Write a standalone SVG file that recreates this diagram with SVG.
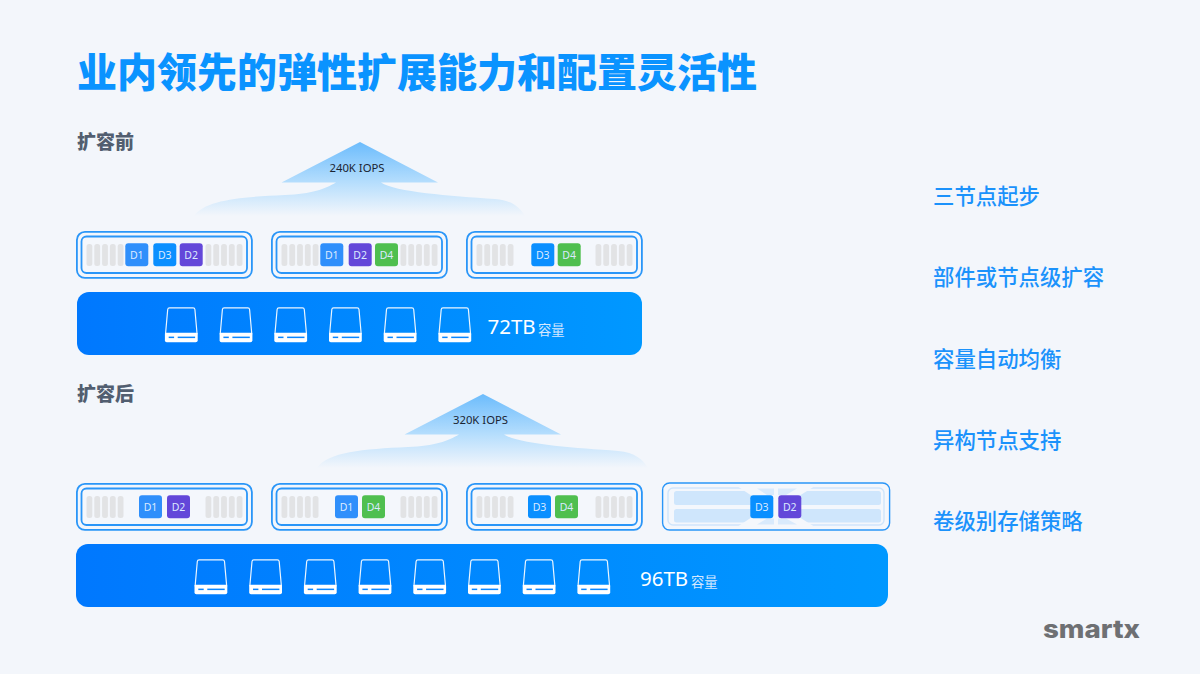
<svg xmlns="http://www.w3.org/2000/svg" width="1200" height="674" viewBox="0 0 1200 674">
<style>
text{font-family:"Noto Sans","Noto Sans CJK SC","Liberation Sans",sans-serif}
.cjk{font-family:"Noto Sans CJK SC","Noto Sans",sans-serif}
.title{font-size:40px;font-weight:900;fill:#0a93ff}
.head{font-size:19px;font-weight:900;fill:#525e70}
.feat{font-size:21.4px;fill:#1b92fb;font-weight:500}
.iops{font-size:11.3px;fill:#1a2433;text-anchor:middle}
.cap{font-size:20.5px;fill:#fff;font-weight:400}
.capz{font-size:13.3px;fill:#d6e9ff}
.outer{fill:none;stroke:#2a96f8;stroke-width:1.8}
.inner{fill:#f4f7fc;stroke:#2a96f8;stroke-width:1.8}
.bar{fill:#e2e3e5}
.chip{font-size:10.5px;fill:#dbeaff;text-anchor:middle}
.d1{fill:#2f8ffb}.d2{fill:#6347d9}.d3{fill:#0a8fff}.d4{fill:#4fbf4f}
</style>
<defs>
<linearGradient id="band" x1="0" y1="0" x2="1" y2="0"><stop offset="0" stop-color="#0078fe"/><stop offset="1" stop-color="#0098ff"/></linearGradient>
<linearGradient id="up" x1="0" y1="0" x2="0" y2="1"><stop offset="0" stop-color="#6cbcfc"/><stop offset="0.55" stop-color="#b6defd"/><stop offset="1" stop-color="#f3f6fb"/></linearGradient>
<g id="bars5"><rect class="bar" x="0" width="5.800" height="22" rx="2.500"/><rect class="bar" x="7.800" width="5.800" height="22" rx="2.500"/><rect class="bar" x="15.600" width="5.800" height="22" rx="2.500"/><rect class="bar" x="23.400" width="5.800" height="22" rx="2.500"/><rect class="bar" x="31.200" width="5.800" height="22" rx="2.500"/></g>
<g id="frame"><rect class="outer" x="0.900" y="0.900" width="175" height="46" rx="8"/><rect class="inner" x="5.500" y="5.500" width="165.500" height="36.500" rx="5"/></g>
<g id="drive"><path d="M.8 27 L3 2.200 Q3.200 .6 4.800 .6 H28.400 Q30 .6 30.200 2.200 L32.400 27" fill="none" stroke="#fff" stroke-width="1.200" opacity=".92"/><path d="M1.400 25.400 H31.800 Q33 25.400 33 26.600 V33 Q33 35 31 35 H2 Q.2 35 .2 33 V26.600 Q.2 25.400 1.400 25.400Z" fill="#fff"/><rect x="4" y="29.300" width="5.400" height="1.500" fill="#0a86ff"/><rect x="13" y="29.300" width="17.400" height="1.500" fill="#0a86ff"/></g>
<path id="arrow" d="M360 142 L438 182.500 H381 C395 192 450 196 495 199 C512 200 520 208 525 216 H194 C205 200 240 197 285 195 C312 194 325 189 336 182.500 H281.500Z"/>
</defs>
<rect width="1200" height="674" fill="#f3f6fb"/>
<text class="title cjk" x="77" y="86.500">业内领先的弹性扩展能力和配置灵活性</text>
<text class="head cjk" x="77" y="148.500">扩容前</text>
<text class="head cjk" x="77" y="400.500">扩容后</text>
<g id="features">
<text class="feat cjk" x="933" y="203.500">三节点起步</text>
<text class="feat cjk" x="933" y="285">部件或节点级扩容</text>
<text class="feat cjk" x="933" y="367">容量自动均衡</text>
<text class="feat cjk" x="933" y="448">异构节点支持</text>
<text class="feat cjk" x="933" y="529">卷级别存储策略</text>
</g>
<g id="perf-before"><use href="#arrow" fill="url(#up)"/><text class="iops" x="357" y="172">240K IOPS</text></g>
<g id="perf-after"><use href="#arrow" x="123" y="252" fill="url(#up)"/><text class="iops" x="480.500" y="424">320K IOPS</text></g>

<g id="node-a1"><use href="#frame" x="76" y="231"/><use href="#bars5" x="86.500" y="244"/><use href="#bars5" x="205.500" y="244"/>
<rect class="d1" x="125.300" y="243.300" width="23" height="23" rx="3"/><text class="chip" x="136.800" y="258.500">D1</text>
<rect class="d3" x="153.300" y="243.300" width="23" height="23" rx="3"/><text class="chip" x="164.800" y="258.500">D3</text>
<rect class="d2" x="179.700" y="243.300" width="23" height="23" rx="3"/><text class="chip" x="191.200" y="258.500">D2</text></g>
<g id="node-a2"><use href="#frame" x="271" y="231"/><use href="#bars5" x="281.500" y="244"/><use href="#bars5" x="400.500" y="244"/>
<rect class="d1" x="320.300" y="243.300" width="23" height="23" rx="3"/><text class="chip" x="331.800" y="258.500">D1</text>
<rect class="d2" x="348.700" y="243.300" width="23" height="23" rx="3"/><text class="chip" x="360.200" y="258.500">D2</text>
<rect class="d4" x="375" y="243.300" width="23" height="23" rx="3"/><text class="chip" x="386.500" y="258.500">D4</text></g>
<g id="node-a3"><use href="#frame" x="466" y="231"/><use href="#bars5" x="476.500" y="244"/><use href="#bars5" x="595.500" y="244"/>
<rect class="d3" x="531.300" y="243.300" width="23" height="23" rx="3"/><text class="chip" x="542.800" y="258.500">D3</text>
<rect class="d4" x="557.700" y="243.300" width="23" height="23" rx="3"/><text class="chip" x="569.200" y="258.500">D4</text></g>

<g id="pool-a"><rect x="77" y="292" width="565" height="63" rx="12" fill="url(#band)"/>
<use href="#drive" x="164.700" y="307.300"/><use href="#drive" x="219.400" y="307.300"/><use href="#drive" x="274.100" y="307.300"/><use href="#drive" x="328.800" y="307.300"/><use href="#drive" x="383.500" y="307.300"/><use href="#drive" x="438.200" y="307.300"/>
<text class="cap" x="487.500" y="334">72TB</text><text class="capz cjk" x="538" y="335">容量</text></g>

<g id="node-b1"><use href="#frame" x="76" y="483"/><use href="#bars5" x="86.500" y="496"/><use href="#bars5" x="205.500" y="496"/>
<rect class="d1" x="139" y="495.300" width="23" height="23" rx="3"/><text class="chip" x="150.500" y="510.500">D1</text>
<rect class="d2" x="167" y="495.300" width="23" height="23" rx="3"/><text class="chip" x="178.500" y="510.500">D2</text></g>
<g id="node-b2"><use href="#frame" x="271" y="483"/><use href="#bars5" x="281.500" y="496"/><use href="#bars5" x="400.500" y="496"/>
<rect class="d1" x="335" y="495.300" width="23" height="23" rx="3"/><text class="chip" x="346.500" y="510.500">D1</text>
<rect class="d4" x="362" y="495.300" width="23" height="23" rx="3"/><text class="chip" x="373.500" y="510.500">D4</text></g>
<g id="node-b3"><use href="#frame" x="466" y="483"/><use href="#bars5" x="476.500" y="496"/><use href="#bars5" x="595.500" y="496"/>
<rect class="d3" x="528" y="495.300" width="23" height="23" rx="3"/><text class="chip" x="539.500" y="510.500">D3</text>
<rect class="d4" x="555" y="495.300" width="23" height="23" rx="3"/><text class="chip" x="566.500" y="510.500">D4</text></g>
<g id="node-b4"><rect x="662.600" y="483" width="227" height="47" rx="7" fill="#f4f7fc" stroke="#2a96f8" stroke-width="1.400"/>
<rect x="668" y="488" width="216" height="37" rx="5" fill="none" stroke="#cfe5fb" stroke-width="1.400"/>
<rect x="674" y="491" width="207" height="14" rx="2.500" fill="#cfe6fc"/><rect x="674" y="509" width="207" height="13.500" rx="2.500" fill="#cfe6fc"/>
<path d="M737 486 L752 496 V517 L737 527 H815 L799 517 V496 L815 486Z" fill="#f4f7fc"/>
<path d="M757 488.500 H774 V495 H767Z M778 488.500 H797 L786 495 H778Z M767 518.500 H774 V524.500 H757Z M778 518.500 H786 L797 524.500 H778Z" fill="#d9eafc"/>
<rect class="d3" x="750.300" y="495.300" width="23" height="23" rx="3"/><text class="chip" x="761.800" y="510.500">D3</text>
<rect class="d2" x="778.300" y="495.300" width="23" height="23" rx="3"/><text class="chip" x="789.800" y="510.500">D2</text></g>

<g id="pool-b"><rect x="76" y="544" width="812" height="63" rx="12" fill="url(#band)"/>
<use href="#drive" x="194.300" y="559.300"/><use href="#drive" x="249" y="559.300"/><use href="#drive" x="303.700" y="559.300"/><use href="#drive" x="358.400" y="559.300"/><use href="#drive" x="413.100" y="559.300"/><use href="#drive" x="467.800" y="559.300"/><use href="#drive" x="522.500" y="559.300"/><use href="#drive" x="577.200" y="559.300"/>
<text class="cap" x="640" y="586">96TB</text><text class="capz cjk" x="691" y="587">容量</text></g>
<g id="connectors"/>
<text x="1043" y="637.500" font-size="25" font-weight="800" fill="#6e7073" textLength="97" lengthAdjust="spacingAndGlyphs" style="font-family:Inter,'Noto Sans',sans-serif">smartx</text>
</svg>
